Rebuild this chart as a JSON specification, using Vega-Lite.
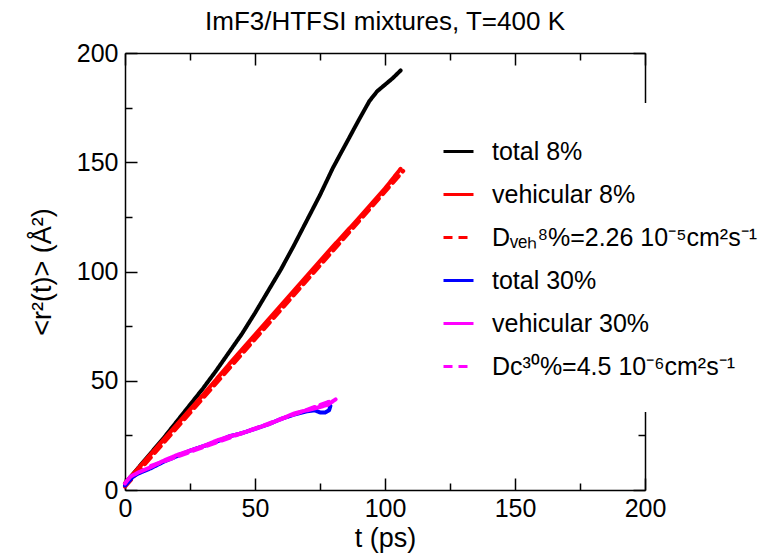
{
  "$schema": "https://vega.github.io/schema/vega-lite/v6.json",
  "width": 520,
  "height": 437,
  "autosize": {"type": "none"},
  "padding": {"left": 125, "top": 53, "right": 123, "bottom": 68},
  "background": "white",
  "title": {"text": "ImF3/HTFSI mixtures, T=400 K", "fontSize": 26, "fontWeight": "normal", "font": "Liberation Sans", "offset": 6, "color": "black", "anchor": "middle"},
  "data": {"values": [
    {"series": "total 8%", "i": 1, "t": 0, "v": 3},
    {"series": "total 8%", "i": 2, "t": 5, "v": 10},
    {"series": "total 8%", "i": 3, "t": 10, "v": 17},
    {"series": "total 8%", "i": 4, "t": 15, "v": 24},
    {"series": "total 8%", "i": 5, "t": 20, "v": 31.5},
    {"series": "total 8%", "i": 6, "t": 25, "v": 39},
    {"series": "total 8%", "i": 7, "t": 30, "v": 46.5},
    {"series": "total 8%", "i": 8, "t": 35, "v": 54.5},
    {"series": "total 8%", "i": 9, "t": 40, "v": 63},
    {"series": "total 8%", "i": 10, "t": 45, "v": 71.5},
    {"series": "total 8%", "i": 11, "t": 50, "v": 81},
    {"series": "total 8%", "i": 12, "t": 55, "v": 91},
    {"series": "total 8%", "i": 13, "t": 60, "v": 101},
    {"series": "total 8%", "i": 14, "t": 65, "v": 112},
    {"series": "total 8%", "i": 15, "t": 70, "v": 123.5},
    {"series": "total 8%", "i": 16, "t": 75, "v": 135},
    {"series": "total 8%", "i": 17, "t": 80, "v": 147.5},
    {"series": "total 8%", "i": 18, "t": 85, "v": 158.5},
    {"series": "total 8%", "i": 19, "t": 90, "v": 169.5},
    {"series": "total 8%", "i": 20, "t": 94, "v": 178},
    {"series": "total 8%", "i": 21, "t": 97, "v": 182.5},
    {"series": "total 8%", "i": 22, "t": 100, "v": 185.5},
    {"series": "total 8%", "i": 23, "t": 103, "v": 188.5},
    {"series": "total 8%", "i": 24, "t": 106, "v": 192},
    {"series": "vehicular 8%", "i": 1, "t": 0, "v": 3},
    {"series": "vehicular 8%", "i": 2, "t": 10, "v": 16.5},
    {"series": "vehicular 8%", "i": 3, "t": 20, "v": 30},
    {"series": "vehicular 8%", "i": 4, "t": 30, "v": 43.5},
    {"series": "vehicular 8%", "i": 5, "t": 40, "v": 57.5},
    {"series": "vehicular 8%", "i": 6, "t": 50, "v": 71},
    {"series": "vehicular 8%", "i": 7, "t": 60, "v": 84.5},
    {"series": "vehicular 8%", "i": 8, "t": 70, "v": 98},
    {"series": "vehicular 8%", "i": 9, "t": 80, "v": 111.5},
    {"series": "vehicular 8%", "i": 10, "t": 90, "v": 124.5},
    {"series": "vehicular 8%", "i": 11, "t": 100, "v": 138},
    {"series": "vehicular 8%", "i": 12, "t": 106, "v": 147},
    {"series": "Dᵥₑₕ⁸%=2.26 10⁻⁵cm²s⁻¹", "i": 1, "t": 0, "v": 1.5},
    {"series": "Dᵥₑₕ⁸%=2.26 10⁻⁵cm²s⁻¹", "i": 2, "t": 107, "v": 146},
    {"series": "total 30%", "i": 1, "t": 0, "v": 2},
    {"series": "total 30%", "i": 2, "t": 3, "v": 6},
    {"series": "total 30%", "i": 3, "t": 5, "v": 7.5},
    {"series": "total 30%", "i": 4, "t": 10, "v": 10},
    {"series": "total 30%", "i": 5, "t": 15, "v": 13},
    {"series": "total 30%", "i": 6, "t": 20, "v": 15.5},
    {"series": "total 30%", "i": 7, "t": 25, "v": 18},
    {"series": "total 30%", "i": 8, "t": 30, "v": 20},
    {"series": "total 30%", "i": 9, "t": 35, "v": 22},
    {"series": "total 30%", "i": 10, "t": 40, "v": 24.5},
    {"series": "total 30%", "i": 11, "t": 45, "v": 26},
    {"series": "total 30%", "i": 12, "t": 50, "v": 28},
    {"series": "total 30%", "i": 13, "t": 55, "v": 30},
    {"series": "total 30%", "i": 14, "t": 60, "v": 32.5},
    {"series": "total 30%", "i": 15, "t": 65, "v": 34.5},
    {"series": "total 30%", "i": 16, "t": 70, "v": 36},
    {"series": "total 30%", "i": 17, "t": 73, "v": 36.5},
    {"series": "total 30%", "i": 18, "t": 75, "v": 35.5},
    {"series": "total 30%", "i": 19, "t": 77, "v": 35.5},
    {"series": "total 30%", "i": 20, "t": 78.5, "v": 36.5},
    {"series": "total 30%", "i": 21, "t": 79, "v": 38.5},
    {"series": "total 30%", "i": 22, "t": 78, "v": 40},
    {"series": "vehicular 30%", "i": 1, "t": 0, "v": 3},
    {"series": "vehicular 30%", "i": 2, "t": 2, "v": 6},
    {"series": "vehicular 30%", "i": 3, "t": 5, "v": 8},
    {"series": "vehicular 30%", "i": 4, "t": 10, "v": 10.5},
    {"series": "vehicular 30%", "i": 5, "t": 15, "v": 13.5},
    {"series": "vehicular 30%", "i": 6, "t": 20, "v": 16},
    {"series": "vehicular 30%", "i": 7, "t": 25, "v": 18},
    {"series": "vehicular 30%", "i": 8, "t": 30, "v": 20},
    {"series": "vehicular 30%", "i": 9, "t": 35, "v": 22.5},
    {"series": "vehicular 30%", "i": 10, "t": 40, "v": 24.5},
    {"series": "vehicular 30%", "i": 11, "t": 45, "v": 26},
    {"series": "vehicular 30%", "i": 12, "t": 50, "v": 28},
    {"series": "vehicular 30%", "i": 13, "t": 55, "v": 30},
    {"series": "vehicular 30%", "i": 14, "t": 60, "v": 32.5},
    {"series": "vehicular 30%", "i": 15, "t": 65, "v": 35},
    {"series": "vehicular 30%", "i": 16, "t": 70, "v": 36.5},
    {"series": "vehicular 30%", "i": 17, "t": 75, "v": 38},
    {"series": "vehicular 30%", "i": 18, "t": 78, "v": 39},
    {"series": "vehicular 30%", "i": 19, "t": 81, "v": 41.5},
    {"series": "Dᴄ³⁰%=4.5 10⁻⁶cm²s⁻¹", "i": 1, "t": 10, "v": 11},
    {"series": "Dᴄ³⁰%=4.5 10⁻⁶cm²s⁻¹", "i": 2, "t": 80, "v": 41}
  ]},
  "layer": [
    {
      "mark": {"type": "line", "strokeWidth": 4, "strokeCap": "round", "strokeJoin": "round"},
      "encoding": {
        "x": {"field": "t", "type": "quantitative", "scale": {"domain": [0, 200], "nice": false, "zero": false},
          "axis": {"orient": "bottom", "values": [0, 50, 100, 150, 200], "tickSize": -12, "labelPadding": 18, "domain": true, "title": "t (ps)", "titleFontSize": 27, "titlePadding": 4}},
        "y": {"field": "v", "type": "quantitative", "scale": {"domain": [0, 200], "nice": false, "zero": false},
          "axis": {"orient": "left", "values": [0, 50, 100, 150, 200], "tickSize": -12, "labelPadding": 19, "domain": true, "title": "<r²(t)> (Å²)", "titleFontSize": 27, "titlePadding": 20}},
        "color": {"field": "series", "type": "nominal",
          "scale": {"domain": ["total 8%", "vehicular 8%", "Dᵥₑₕ⁸%=2.26 10⁻⁵cm²s⁻¹", "total 30%", "vehicular 30%", "Dᴄ³⁰%=4.5 10⁻⁶cm²s⁻¹"], "range": ["#000000", "#ff0000", "#ff0000", "#0000ff", "#ff00ff", "#ff00ff"]},
          "legend": {"orient": "none", "legendX": 285, "legendY": 50, "title": null, "symbolType": "stroke", "symbolSize": 900, "symbolStrokeWidth": 3, "labelFontSize": 25, "labelFont": "Liberation Sans", "labelColor": "black", "rowPadding": 13, "labelOffset": 17, "labelLimit": 500, "padding": 32, "fillColor": "white", "strokeColor": null}},
        "strokeDash": {"field": "series", "type": "nominal",
          "scale": {"domain": ["total 8%", "vehicular 8%", "Dᵥₑₕ⁸%=2.26 10⁻⁵cm²s⁻¹", "total 30%", "vehicular 30%", "Dᴄ³⁰%=4.5 10⁻⁶cm²s⁻¹"], "range": [[1, 0], [1, 0], [9, 6], [1, 0], [1, 0], [9, 6]]},
          "legend": {"orient": "none", "legendX": 285, "legendY": 50, "title": null, "symbolType": "stroke", "symbolSize": 900, "symbolStrokeWidth": 3, "labelFontSize": 25, "labelFont": "Liberation Sans", "labelColor": "black", "rowPadding": 13, "labelOffset": 17, "labelLimit": 500, "padding": 32, "fillColor": "white", "strokeColor": null}},
        "order": {"field": "i", "type": "quantitative"}
      }
    },
    {
      "mark": {"type": "point", "opacity": 0},
      "encoding": {
        "x": {"field": "t", "type": "quantitative",
          "axis": {"orient": "top", "values": [0, 50, 100, 150, 200], "labels": false, "tickSize": -12, "domain": true, "title": null}},
        "y": {"field": "v", "type": "quantitative",
          "axis": {"orient": "right", "values": [0, 50, 100, 150, 200], "labels": false, "tickSize": -12, "domain": true, "title": null}}
      }
    },
    {
      "mark": {"type": "point", "opacity": 0},
      "encoding": {
        "x": {"field": "t", "type": "quantitative",
          "axis": {"orient": "bottom", "values": [25, 75, 125, 175], "labels": false, "tickSize": -7, "domain": false, "title": null}},
        "y": {"field": "v", "type": "quantitative",
          "axis": {"orient": "left", "values": [25, 75, 125, 175], "labels": false, "tickSize": -7, "domain": false, "title": null}}
      }
    },
    {
      "mark": {"type": "point", "opacity": 0},
      "encoding": {
        "x": {"field": "t", "type": "quantitative",
          "axis": {"orient": "top", "values": [25, 75, 125, 175], "labels": false, "tickSize": -7, "domain": false, "title": null}},
        "y": {"field": "v", "type": "quantitative",
          "axis": {"orient": "right", "values": [25, 75, 125, 175], "labels": false, "tickSize": -7, "domain": false, "title": null}}
      }
    }
  ],
  "resolve": {"axis": {"x": "independent", "y": "independent"}},
  "config": {
    "view": {"stroke": null},
    "font": "Liberation Sans",
    "axis": {"labelFont": "Liberation Sans", "labelFontSize": 25, "labelColor": "#000000", "titleFont": "Liberation Sans", "titleFontWeight": "normal", "titleColor": "#000000", "tickColor": "#000000", "tickWidth": 1.5, "domainColor": "#000000", "domainWidth": 1.5, "grid": false, "ticks": true, "labelFlush": false, "labelOverlap": false}
  }
}
